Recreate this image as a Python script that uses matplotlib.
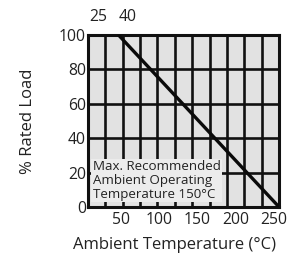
import matplotlib
matplotlib.use("Agg")
import matplotlib.pyplot as plt
import matplotlib.transforms as mtransforms
import numpy as np
from matplotlib.ticker import FixedLocator

# data
temps = [40, 250]
load = [100, 0]
x_ticks = [50, 100, 150, 200, 250]
y_ticks = [0, 20, 40, 60, 80, 100]
top_ticks = [25, 40]
note = "Max. Recommended\nAmbient Operating\nTemperature 150\u00b0C"

plt.rcParams['font.family'] = ['Open Sans', 'DejaVu Sans']
txt = '#222222'

fig = plt.figure(figsize=(3.0, 2.59), dpi=100)
ax = fig.add_axes([0.293, 0.201, 0.637, 0.664])
ax.set_facecolor('#e2e2e2')
ax.set_xlim(0, 250)
ax.set_ylim(0, 100)

ax.xaxis.set_minor_locator(FixedLocator(np.linspace(0, 250, 12)))
ax.set_xticks(x_ticks)
ax.set_yticks(y_ticks)
ax.grid(False)
ax.grid(True, which='minor', axis='x', color='#111111', lw=1.9)
ax.grid(True, which='major', axis='y', color='#111111', lw=1.9)
ax.set_axisbelow(True)
ax.tick_params(which='both', length=0, labelsize=11.3, labelcolor=txt)
ax.tick_params(axis='x', pad=3.5)
ax.tick_params(axis='y', pad=1.5)
shift = mtransforms.ScaledTranslation(-5 / 100, 0, fig.dpi_scale_trans)
for lab in ax.get_xticklabels():
    lab.set_transform(lab.get_transform() + shift)
for s in ax.spines.values():
    s.set_linewidth(2.2)
    s.set_color('#111111')

ax.plot(temps, load, color='#0a0a0a', lw=2.4, solid_capstyle='butt', zorder=5)

ax.text(0.025, 0.035, note, transform=ax.transAxes, fontsize=9.6, color=txt,
        va='bottom', ha='left', linespacing=1.08, zorder=4,
        bbox=dict(boxstyle='square,pad=0.1', fc='#ececec', ec='none'))

ax.set_xlabel("Ambient Temperature (\u00b0C)", fontsize=12, color=txt)
ax.xaxis.set_label_coords(0.455, -0.22)
ax.xaxis.label.set_va('center')
ax.set_ylabel("% Rated Load", fontsize=12, color=txt)
ax.yaxis.set_label_coords(-0.314, 0.5)
ax.yaxis.label.set_va('center')

top = ax.twiny()
top.set_xlim(ax.get_xlim())
top.set_xticks(top_ticks)
top.set_xticklabels([str(t) for t in top_ticks])
top.tick_params(length=0, labelsize=11.3, labelcolor=txt, pad=7.5)
labs = top.get_xticklabels()
labs[0].set_ha('right')
labs[1].set_ha('left')
for s in top.spines.values():
    s.set_visible(False)

fig.savefig("out.png", dpi=100)
